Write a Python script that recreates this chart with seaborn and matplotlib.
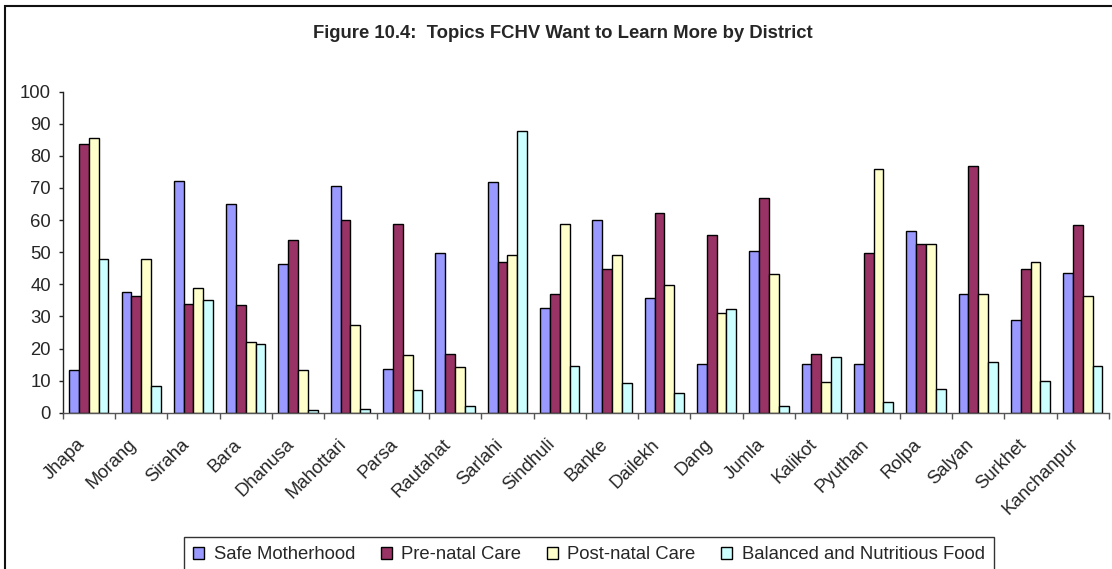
import numpy as np
import pandas as pd
import matplotlib
matplotlib.use("Agg")
import matplotlib.pyplot as plt
import matplotlib.patches as mpatches
import matplotlib.transforms as mtransforms
import seaborn as sns

# Districts and the share of FCHVs wanting to learn more on each topic (%)
districts = ["Jhapa", "Morang", "Siraha", "Bara", "Dhanusa", "Mahottari", "Parsa",
             "Rautahat", "Sarlahi", "Sindhuli", "Banke", "Dailekh", "Dang", "Jumla",
             "Kalikot", "Pyuthan", "Rolpa", "Salyan", "Surkhet", "Kanchanpur"]
topics = ["Safe Motherhood", "Pre-natal Care", "Post-natal Care",
          "Balanced and Nutritious Food"]

safe_motherhood = [13.3, 37.7, 72.3, 65.1, 46.2, 70.5, 13.7, 49.9, 71.8, 32.7,
                   60.0, 35.6, 15.1, 50.4, 15.1, 15.1, 56.7, 36.9, 29.0, 43.6]
pre_natal = [83.6, 36.4, 34.0, 33.4, 53.7, 60.0, 58.8, 18.4, 46.9, 36.9,
             44.9, 62.2, 55.5, 66.8, 18.4, 49.9, 52.4, 76.8, 44.9, 58.4]
post_natal = [85.7, 47.8, 38.9, 22.0, 13.3, 27.2, 18.0, 14.2, 49.1, 58.8,
              49.1, 39.9, 31.0, 43.3, 9.6, 76.0, 52.4, 36.9, 47.0, 36.4]
nutritious_food = [47.8, 8.3, 35.2, 21.3, 0.7, 1.1, 7.1, 2.0, 87.9, 14.6,
                   9.1, 6.2, 32.3, 2.0, 17.2, 3.2, 7.5, 15.9, 10.0, 14.6]

colors = ["#9999FF", "#993366", "#FFFFCC", "#CCFFFF"]

df = pd.DataFrame({
    "District": np.tile(districts, len(topics)),
    "Topic": np.repeat(topics, len(districts)),
    "Percent": safe_motherhood + pre_natal + post_natal + nutritious_food,
})

FS = 13.3

sns.set_theme(style="white")
plt.rcParams["font.family"] = ["Liberation Sans", "DejaVu Sans"]

fig = plt.figure(figsize=(11.12, 5.69), dpi=100)
ax = fig.add_axes([62.7 / 1112, 156.3 / 569, (1109 - 62.7) / 1112, 321.0 / 569])

sns.barplot(data=df, x="District", y="Percent", hue="Topic", order=districts,
            hue_order=topics, palette=colors, saturation=1, width=0.75,
            edgecolor="black", linewidth=1.0, legend=False, ax=ax)

ax.set_xlim(-0.5, len(districts) - 0.5)
ax.set_ylim(0, 100)
ax.set_yticks(np.arange(0, 101, 10))
ax.set_xlabel("")
ax.set_ylabel("")

for side in ("top", "right"):
    ax.spines[side].set_visible(False)
ax.spines["left"].set_color("#222222")
ax.spines["bottom"].set_color("#555555")
for side in ("left", "bottom"):
    ax.spines[side].set_linewidth(1.0)

ax.tick_params(axis="y", which="major", direction="out", length=3, width=1,
               color="#222222", pad=5.5, labelsize=FS, left=True)
ax.set_xticks(np.arange(len(districts)))
ax.set_xticks(np.arange(-0.5, len(districts)), minor=True)
ax.tick_params(axis="x", which="major", length=0, pad=21, labelsize=FS)
ax.tick_params(axis="x", which="minor", direction="out", length=4, width=1,
               color="#555555", bottom=True)

offset = mtransforms.ScaledTranslation(-7 / 100, 0, fig.dpi_scale_trans)
for lbl in ax.get_xticklabels():
    lbl.set_rotation(45)
    lbl.set_ha("right")
    lbl.set_va("center")
    lbl.set_rotation_mode("anchor")
    lbl.set_transform(lbl.get_transform() + offset)

ax.grid(False)

fig.text(563 / 1112, 1 - 34 / 569, "Figure 10.4:  Topics FCHV Want to Learn More by District",
         ha="center", va="center", fontsize=FS, fontweight="bold")

# Outer chart frame
frame = mpatches.Rectangle((5 / 1112, -0.2), 1.3, 1.2 - 6 / 569,
                           transform=fig.transFigure, fill=False,
                           edgecolor="#111111", linewidth=1.5, clip_on=False)
fig.patches.append(frame)

handles = [mpatches.Patch(facecolor=c, edgecolor="black", linewidth=1.0) for c in colors]
leg = fig.legend(handles, topics, loc="upper left",
                 bbox_to_anchor=(184 / 1112, 1 - 537 / 569), ncol=4,
                 frameon=True, fancybox=False, edgecolor="black", fontsize=FS,
                 handlelength=0.6, handleheight=0.6, handletextpad=0.5,
                 columnspacing=1.4, borderpad=0.5, borderaxespad=0)
leg.get_frame().set_linewidth(1.0)

fig.savefig("out.png", dpi=100, facecolor="white")
